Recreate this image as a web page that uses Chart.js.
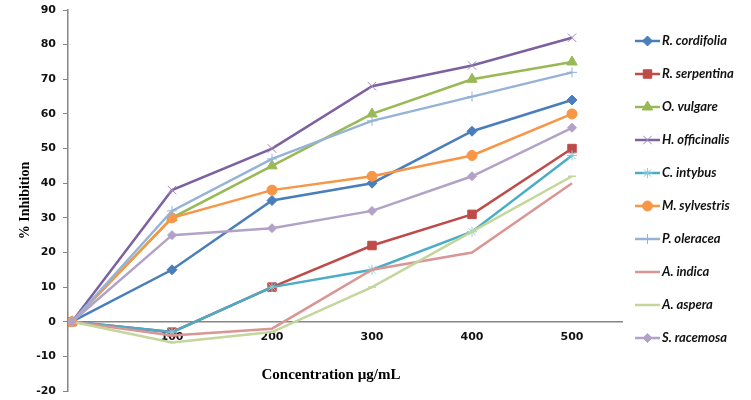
<!DOCTYPE html>
<html>
<head>
<meta charset="utf-8">
<script src="https://cdn.jsdelivr.net/npm/chart.js@4.4.0/dist/chart.umd.min.js"></script>
<style>
html, body { margin: 0; padding: 0; background: #fff; }
</style>
</head>
<body>
<canvas id="myChart" width="751" height="400"></canvas>
<script>
// Concentration (ug/mL) and the ticks shown on the x axis
var concentrations = [0, 100, 200, 300, 400, 500];
var xTicks = [100, 200, 300, 400, 500];

// % inhibition for every extract
var rCordifolia  = [0, 15, 35, 40, 55, 64];
var rSerpentina  = [0, -3, 10, 22, 31, 50];
var oVulgare     = [0, 30, 45, 60, 70, 75];
var hOfficinalis = [0, 38, 50, 68, 74, 82];
var cIntybus     = [0, -3, 10, 15, 26, 48];
var mSylvestris  = [0, 30, 38, 42, 48, 60];
var pOleracea    = [0, 32, 47, 58, 65, 72];
var aIndica      = [0, -4, -2, 15, 20, 40];
var aAspera      = [0, -6, -3, 10, 26, 42];
var sRacemosa    = [0, 25, 27, 32, 42, 56];

var names = ['R. cordifolia', 'R. serpentina', 'O. vulgare', 'H. officinalis', 'C. intybus',
             'M. sylvestris', 'P. oleracea', 'A. indica', 'A. aspera', 'S. racemosa'];

var xTitle = 'Concentration µg/mL';

function pairs(vals) {
    return vals.map(function (v, i) { return {x: concentrations[i], y: v}; });
}

function series(i, vals, color, marker, radius, markerColor, markerWidth) {
    return {
        label: names[i],
        data: pairs(vals),
        borderColor: color,
        backgroundColor: color,
        borderWidth: 2.5,
        pointStyle: marker,
        pointRadius: radius,
        pointBackgroundColor: markerColor || color,
        pointBorderColor: markerColor || color,
        pointBorderWidth: markerWidth || 1,
        tension: 0,
        order: 20 - i
    };
}

var datasets = [
    series(0, rCordifolia,  '#4A7EBB', 'rectRot', 5),
    series(1, rSerpentina,  '#BE4B48', 'rect', 6),
    series(2, oVulgare,     '#98B954', 'triangle', 6),
    series(3, hOfficinalis, '#7D60A0', 'crossRot', 6, '#9C88BE', 1),
    series(4, cIntybus,     '#4BACC6', 'star', 5, '#86CCDD', 1),
    series(5, mSylvestris,  '#F79646', 'circle', 5),
    series(6, pOleracea,    '#95B3D7', 'cross', 5, '#95B3D7', 1),
    series(7, aIndica,      '#D99694', 'circle', 0),
    series(8, aAspera,      '#C3D69B', 'line', 4, '#C3D69B', 1.5),
    series(9, sRacemosa,    '#B3A2C7', 'rectRot', 4.5)
];

// legend drawn at the right, line + marker + label
var sideLegend = {
    id: 'sideLegend',
    afterDraw: function (chart) {
        var ctx = chart.ctx;
        var area = chart.chartArea;
        chart.data.datasets.forEach(function (ds, i) {
            var x0 = area.right + 13;
            var y = area.top + 31 + i * 33;
            ctx.save();
            ctx.strokeStyle = ds.borderColor;
            ctx.lineWidth = ds.borderWidth;
            ctx.beginPath();
            ctx.moveTo(x0, y);
            ctx.lineTo(x0 + 25, y);
            ctx.stroke();
            if (ds.pointRadius > 0) {
                ctx.fillStyle = ds.pointBackgroundColor;
                ctx.strokeStyle = ds.pointBorderColor;
                ctx.lineWidth = ds.pointBorderWidth;
                Chart.helpers.drawPoint(ctx, {
                    pointStyle: ds.pointStyle,
                    radius: ds.pointRadius,
                    rotation: 0,
                    borderWidth: ds.pointBorderWidth
                }, x0 + 12.5, y);
            }
            ctx.fillStyle = '#111';
            ctx.font = 'italic bold 13px Lato';
            ctx.textBaseline = 'middle';
            ctx.fillText(ds.label, x0 + 27, y);
            ctx.restore();
        });
        // x axis title, a bit left of the plot centre like the original
        var zeroY = chart.scales.y.getPixelForValue(0);
        ctx.save();
        ctx.fillStyle = '#000';
        ctx.font = 'bold 15px "Liberation Serif"';
        ctx.textAlign = 'center';
        ctx.textBaseline = 'middle';
        ctx.fillText(xTitle, (area.left + area.right) / 2 - 14, zeroY + 53);
        ctx.restore();
    }
};

var ctx = document.getElementById('myChart');
var myChart = new Chart(ctx, {
    type: 'line',
    data: { datasets: datasets },
    plugins: [sideLegend],
    options: {
        responsive: false,
        animation: false,
        layout: { padding: { left: 0, right: 129, top: 10, bottom: 9 } },
        plugins: {
            legend: { display: false },
            tooltip: { enabled: false }
        },
        scales: {
            x: {
                type: 'linear',
                position: { y: 0 },
                min: -4,
                max: 550,
                afterBuildTicks: function (scale) {
                    scale.ticks = xTicks.map(function (v) { return {value: v}; });
                },
                grid: { display: false, drawTicks: false },
                border: { display: true, color: '#868686', width: 1.5 },
                ticks: {
                    padding: 9,
                    color: '#111',
                    font: { family: 'DejaVu Sans', size: 11, weight: 'bold' }
                }
            },
            y: {
                min: -20,
                max: 90,
                afterFit: function (scale) {
                    scale.width = 68;
                    scale.paddingTop = 0;
                    scale.paddingBottom = 0;
                },
                grid: { drawOnChartArea: false, drawTicks: true, tickLength: 5, color: '#868686' },
                border: { display: true, color: '#868686', width: 1.5 },
                ticks: {
                    stepSize: 10,
                    padding: 7,
                    color: '#111',
                    font: { family: 'DejaVu Sans', size: 11, weight: 'bold' }
                },
                title: {
                    display: true,
                    text: '% Inhibition',
                    color: '#000',
                    font: { family: 'Liberation Serif', size: 14, weight: 'bold' },
                    padding: { top: 17, bottom: 0 }
                }
            }
        }
    }
});
</script>
</body>
</html>
